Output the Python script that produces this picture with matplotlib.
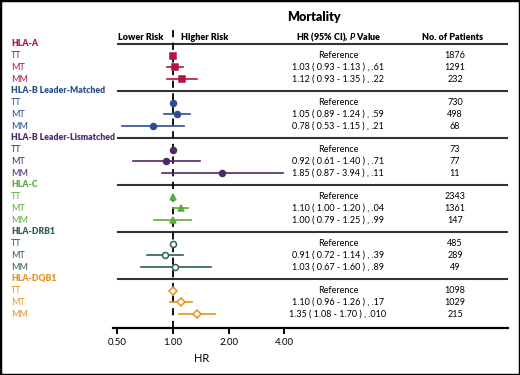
# -*- coding: utf-8 -*-
"""
Forest plot: mortality HR by HLA mismatch group (TT / MT / MM)
"""
import numpy as np
import matplotlib
matplotlib.use("Agg")
import matplotlib.pyplot as plt
from matplotlib.patches import Rectangle
from matplotlib.transforms import blended_transform_factory

plt.rcParams["font.family"] = ["Lato", "DejaVu Sans"]
plt.rcParams["mathtext.fontset"] = "custom"
plt.rcParams["mathtext.it"] = "Lato:italic:bold"
plt.rcParams["mathtext.rm"] = "Lato:bold"

# ── data ────────────────────────────────────────────
groups = ["HLA-A", "HLA-B Leader-Matched", "HLA-B Leader-Lismatched",
          "HLA-C", "HLA-DRB1", "HLA-DQB1"]
levels = ["TT", "MT", "MM"]
colors = ["#b5163f", "#2c4f8e", "#4e2a6b", "#5fab3d", "#2e6446", "#e8921f"]
markers = ["s", "o", "o", "^", "o", "D"]
filled = [True, True, True, True, False, False]

hr = [[1.00, 1.03, 1.12], [1.00, 1.05, 0.78], [1.00, 0.92, 1.85],
      [1.00, 1.10, 1.00], [1.00, 0.91, 1.03], [1.00, 1.10, 1.35]]
ci_lo = [[1.00, 0.93, 0.93], [1.00, 0.89, 0.53], [1.00, 0.61, 0.87],
         [1.00, 1.00, 0.79], [1.00, 0.72, 0.67], [1.00, 0.96, 1.08]]
ci_hi = [[1.00, 1.13, 1.35], [1.00, 1.24, 1.15], [1.00, 1.40, 3.94],
         [1.00, 1.20, 1.25], [1.00, 1.14, 1.60], [1.00, 1.26, 1.70]]
pvals = [["", ".61", ".22"], ["", ".59", ".21"], ["", ".71", ".11"],
         ["", ".04", ".99"], ["", ".39", ".89"], ["", ".17", ".010"]]
n_pat = [[1876, 1291, 232], [730, 498, 68], [73, 77, 11],
         [2343, 1361, 147], [485, 289, 49], [1098, 1029, 215]]
xticks = [0.5, 1, 2, 4]
xtick_labels = ["0.50", "1.00", "2.00", "4.00"]

# ── layout (pixels) ─────────────────────────────────
W, H = 520, 375
ROW0, DY = 44, 11.74
AX_L, AX_R, AX_T, AX_B = 113, 508, 25, 328
PX_PER_DOUBLING = 55.5
X_ONE = 173
BOLD = "heavy"

fig = plt.figure(figsize=(W / 100, H / 100), dpi=100)
fig.patches.append(Rectangle((0, 0), 1, 1, transform=fig.transFigure,
                             fill=False, lw=2.5, ec="black"))

ax = fig.add_axes([AX_L / W, 1 - AX_B / H, (AX_R - AX_L) / W, (AX_B - AX_T) / H])
ax.set_xscale("log", base=2)
ax.set_xlim(2 ** ((AX_L - X_ONE) / PX_PER_DOUBLING),
            2 ** ((AX_R - X_ONE) / PX_PER_DOUBLING))
row = lambda ypx: (ypx - ROW0) / DY
ax.set_ylim(row(AX_B), row(AX_T))
for s in ["top", "right", "left"]:
    ax.spines[s].set_visible(False)
ax.spines["bottom"].set_linewidth(1.6)
ax.set_yticks([])
ax.set_xticks(xticks)
ax.set_xticklabels(xtick_labels)
ax.minorticks_off()
ax.tick_params(axis="x", length=4, width=1.4, labelsize=7, pad=3)
ax.axvline(1, color="black", ls=(0, (4, 3)), lw=1.3, zorder=1)

tr = blended_transform_factory(ax.transAxes, ax.transData)
line_x0 = (118 - AX_L) / (AX_R - AX_L)

def fx(px):
    return px / W

def fy(px):
    return 1 - px / H

fig.text(fx(314), fy(17), "Mortality", ha="center", va="center",
         fontsize=9, fontweight=BOLD)
fig.text(fx(118), fy(37), "Lower Risk", ha="left", va="center",
         fontsize=6.5, fontweight=BOLD)
fig.text(fx(181), fy(37), "Higher Risk", ha="left", va="center",
         fontsize=6.5, fontweight=BOLD)
fig.text(fx(339), fy(37), "HR (95% CI), $\\mathit{P}$ Value", ha="center",
         va="center", fontsize=6.5, fontweight=BOLD)
fig.text(fx(453), fy(37), "No. of Patients", ha="center", va="center",
         fontsize=6.5, fontweight=BOLD)
fig.text(fx(202), fy(358), "HR", ha="center", va="center", fontsize=8)

col_hr = (338 - AX_L) / (AX_R - AX_L)
col_n = (455 - AX_L) / (AX_R - AX_L)

for g, name in enumerate(groups):
    r0 = g * 4
    c = colors[g]
    ax.axhline(r0, xmin=line_x0, xmax=1, color="#333333", lw=1.5, zorder=0)
    fig.text(fx(11), fy(ROW0 + r0 * DY), name, color=c, ha="left",
             va="center", fontsize=6.2, fontweight=BOLD)
    for k, lev in enumerate(levels):
        r = r0 + 1 + k
        fig.text(fx(11), fy(ROW0 + r * DY), lev, color=c, ha="left",
                 va="center", fontsize=6.5)
        x = hr[g][k]
        ax.plot([ci_lo[g][k], ci_hi[g][k]], [r, r], color=c, lw=1.2, zorder=2)
        ax.plot([x], [r], marker=markers[g], ms=4.3 if markers[g] != "D" else 4.2,
                color=c, mfc=c if filled[g] else "white", mec=c, mew=1.1,
                zorder=3, ls="none")
        if k == 0:
            txt = "Reference"
        else:
            txt = "%.2f ( %.2f - %.2f ) , %s" % (hr[g][k], ci_lo[g][k],
                                                 ci_hi[g][k], pvals[g][k])
        ax.text(col_hr, r, txt, transform=tr, ha="center", va="center",
                fontsize=6.5)
        ax.text(col_n, r, str(n_pat[g][k]), transform=tr, ha="center",
                va="center", fontsize=6.5)

fig.savefig("out.png", dpi=100)
